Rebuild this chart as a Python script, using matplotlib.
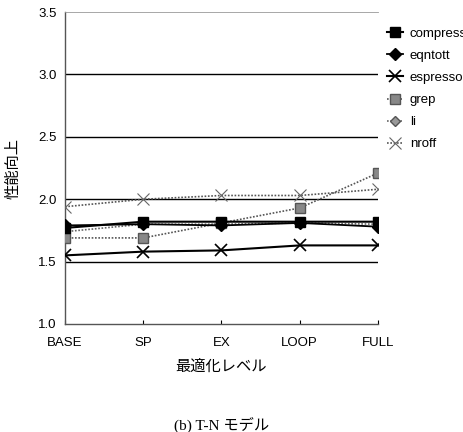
import matplotlib
matplotlib.use("Agg")
import matplotlib.pyplot as plt

levels = ["BASE", "SP", "EX", "LOOP", "FULL"]
compress = [1.77, 1.82, 1.82, 1.82, 1.82]
eqntott = [1.79, 1.80, 1.79, 1.81, 1.78]
espresso = [1.55, 1.58, 1.59, 1.63, 1.63]
grep = [1.69, 1.69, 1.81, 1.93, 2.21]
li = [1.74, 1.80, 1.80, 1.81, 1.80]
nroff = [1.94, 2.00, 2.03, 2.03, 2.08]
yticks = [1.0, 1.5, 2.0, 2.5, 3.0, 3.5]

sans = ["Liberation Sans", "Noto Sans CJK JP"]
cjk = ["Noto Sans CJK JP", "DejaVu Sans"]
serif = ["Liberation Serif", "Noto Sans CJK JP"]

fig = plt.figure(figsize=(4.63, 4.32), dpi=100)
ax = fig.add_axes([0.1404, 0.25, 0.676, 0.722])
x = list(range(len(levels)))

for yv in yticks[1:-1]:
    ax.axhline(yv, color="black", lw=1.0, zorder=1)

ax.plot(x, li, color="#666666", ls=(0, (1, 1)), lw=1.2, marker="D", ms=5,
        mfc="#999999", mec="#555555", label="li", zorder=3)
ax.plot(x, grep, color="#555555", ls=(0, (1, 1)), lw=1.2, marker="s", ms=7,
        mfc="#888888", mec="#555555", label="grep", zorder=3)
ax.plot(x, nroff, color="#555555", ls=(0, (1, 1)), lw=1.2, marker="x", ms=8,
        mew=0.8, mec="#666666", label="nroff", zorder=3)
ax.plot(x, espresso, color="black", lw=1.5, marker="x", ms=8, mew=1.2,
        label="espresso", zorder=4)
ax.plot(x, eqntott, color="black", lw=1.3, marker="D", ms=6,
        label="eqntott", zorder=4)
ax.plot(x, compress, color="black", lw=1.5, marker="s", ms=7,
        label="compress", zorder=5)

ax.set_xlim(0, len(levels) - 1)
ax.set_ylim(1.0, 3.5)
ax.set_xticks(x)
ax.set_xticklabels(levels, family=sans, fontsize=9.5)
ax.set_yticks(yticks)
ax.set_yticklabels([f"{v:.1f}" for v in yticks], family=sans, fontsize=9.5)
ax.tick_params(axis="x", direction="in", length=3, pad=9, color="black")
ax.tick_params(axis="y", length=0, pad=6)
for s in ["left", "bottom", "top"]:
    ax.spines[s].set_color("#555555")
    ax.spines[s].set_linewidth(1.0)
ax.spines["right"].set_visible(False)
ax.spines["top"].set_linewidth(0.6)
ax.spines["top"].set_color("#999999")

ax.set_xlabel("最適化レベル", family=cjk, fontsize=11)
ax.xaxis.set_label_coords(0.5, -0.11)
ax.set_ylabel("性能向上", family=cjk, fontsize=11)
ax.yaxis.set_label_coords(-0.14, 0.5)

handles, labels = ax.get_legend_handles_labels()
order = ["compress", "eqntott", "espresso", "grep", "li", "nroff"]
hmap = dict(zip(labels, handles))
leg = ax.legend([hmap[k] for k in order], order, loc="upper left",
                bbox_to_anchor=(1.0, 0.98), frameon=False,
                prop={"family": sans, "size": 9.5}, handlelength=1.2,
                handletextpad=0.5, labelspacing=0.75, borderaxespad=0.3)

fig.text(0.479, -0.003, "(b) T-N モデル", family=serif, fontsize=11,
         ha="center", va="bottom")

fig.savefig("out.png", dpi=100)
